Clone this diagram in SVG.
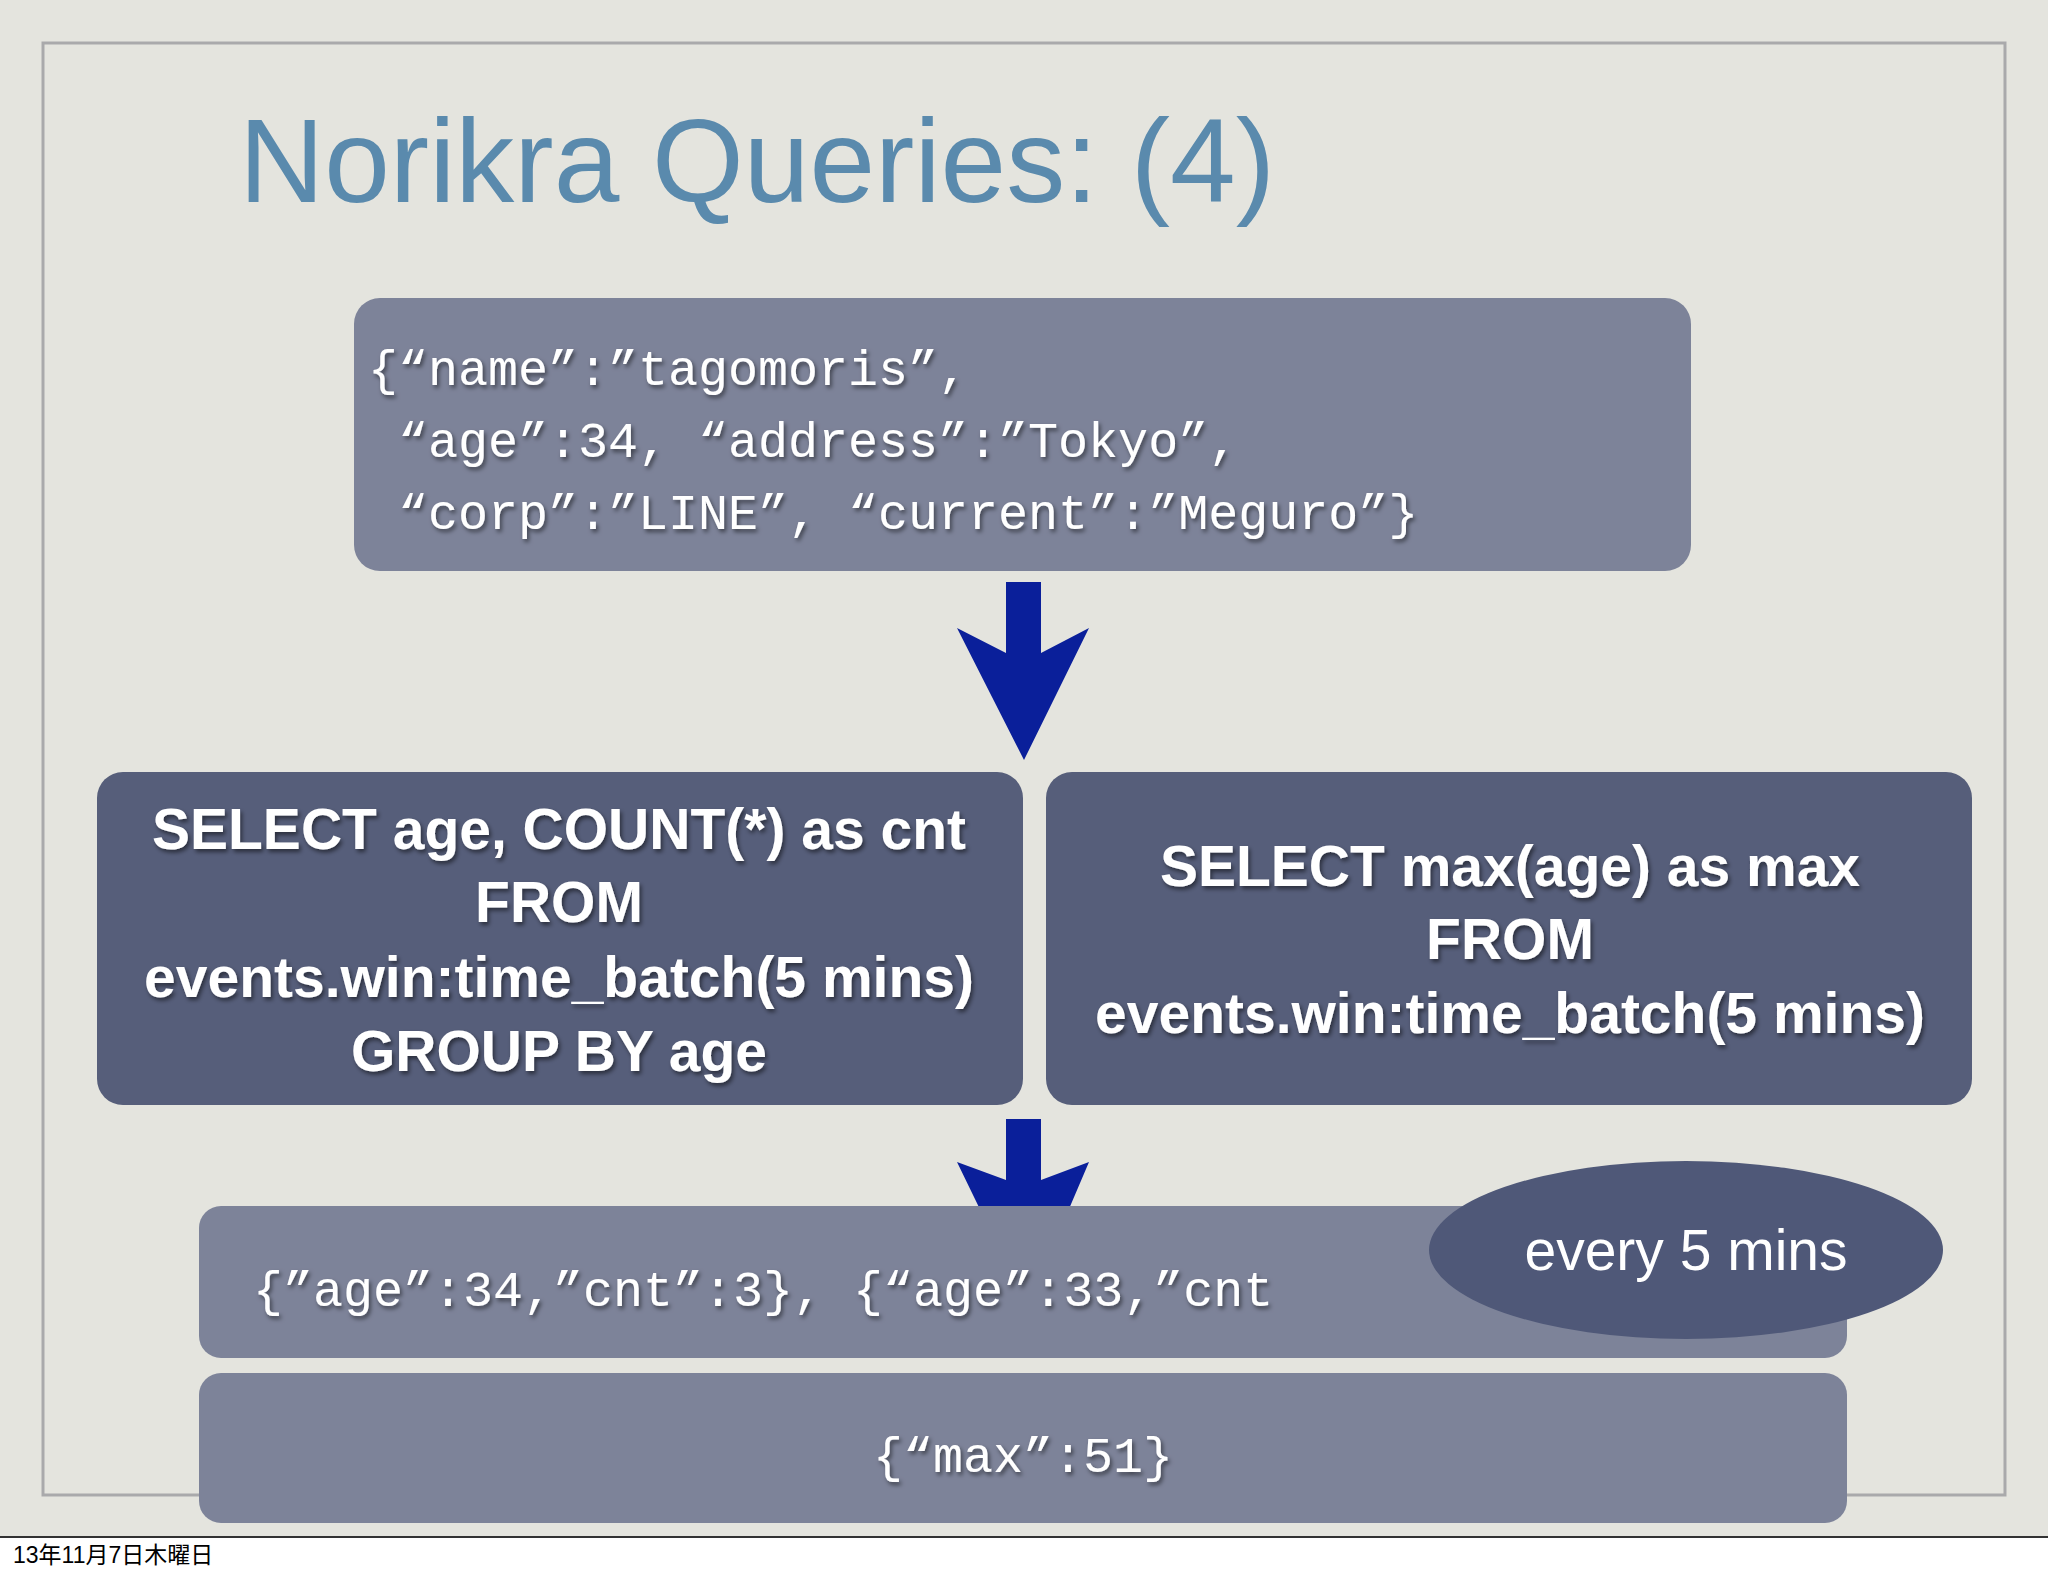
<svg xmlns="http://www.w3.org/2000/svg" width="2048" height="1576" viewBox="0 0 2048 1576">
<style>
.mono{font-family:"Liberation Mono","DejaVu Sans Mono",monospace;font-size:50px;fill:#fff}
.bold{font-family:"Liberation Sans",Arial,sans-serif;font-weight:bold;font-size:57px;fill:#fff;text-anchor:middle}
.lb{fill:#7d8399}
.db{fill:#565e7a}
.arrow{fill:#0a1f9a}
</style>
<defs><filter id="sh"><feDropShadow dx="2" dy="3" stdDeviation="2" flood-color="#000" flood-opacity="0.5"/></filter></defs>
<rect width="2048" height="1576" fill="#fff"/>
<rect width="2048" height="1537" fill="#e4e4de"/>
<rect x="43" y="43" width="1962" height="1452" fill="none" stroke="#a9a9ab" stroke-width="3"/>
<text x="239" y="202" font-family="Liberation Sans,Arial,sans-serif" font-size="118" fill="#5a8aad">Norikra Queries: (4)</text>
<g id="connectors">
<polygon class="arrow" points="1006,582 1041,582 1041,653 1089,628 1024,760 957,628 1006,653"/>
<polygon class="arrow" points="1006,1119 1041,1119 1041,1180 1089,1162 1060,1230 990,1230 957,1162 1006,1180"/>
</g>
<g id="input"><rect class="lb" x="354" y="298" width="1337" height="273" rx="26"/>
<text class="mono" filter="url(#sh)"><tspan x="368" y="385">{“name”:”tagomoris”,</tspan><tspan x="368" y="457"> “age”:34, “address”:”Tokyo”,</tspan><tspan x="368" y="529"> “corp”:”LINE”, “current”:”Meguro”}</tspan></text></g>
<g id="query1"><rect class="db" x="97" y="772" width="926" height="333" rx="26"/>
<text class="bold" filter="url(#sh)"><tspan x="559" y="849">SELECT age, COUNT(*) as cnt</tspan><tspan x="559" y="922">FROM</tspan><tspan x="559" y="997">events.win:time_batch(5 mins)</tspan><tspan x="559" y="1071">GROUP BY age</tspan></text></g>
<g id="query2"><rect class="db" x="1046" y="772" width="926" height="333" rx="26"/>
<text class="bold" filter="url(#sh)"><tspan x="1510" y="886">SELECT max(age) as max</tspan><tspan x="1510" y="959">FROM</tspan><tspan x="1510" y="1033">events.win:time_batch(5 mins)</tspan></text></g>
<g id="out1"><rect class="lb" x="199" y="1206" width="1648" height="152" rx="22"/>
<text class="mono" x="253" y="1306" filter="url(#sh)">{”age”:34,”cnt”:3}, {“age”:33,”cnt</text></g>
<g id="out2"><rect class="lb" x="199" y="1373" width="1648" height="150" rx="22"/>
<text class="mono" x="1023" y="1472" text-anchor="middle" filter="url(#sh)">{“max”:51}</text></g>
<g id="badge"><ellipse cx="1686" cy="1250" rx="257" ry="89" fill="#4f5878"/>
<text x="1686" y="1270" text-anchor="middle" font-family="Liberation Sans,Arial,sans-serif" font-size="57" fill="#fff">every 5 mins</text></g>
<line x1="0" y1="1537" x2="2048" y2="1537" stroke="#333" stroke-width="2"/>
<text x="13" y="1563" font-family="Liberation Sans,'Noto Sans CJK JP',sans-serif" font-size="23" fill="#000">13年11月7日木曜日</text>
</svg>
